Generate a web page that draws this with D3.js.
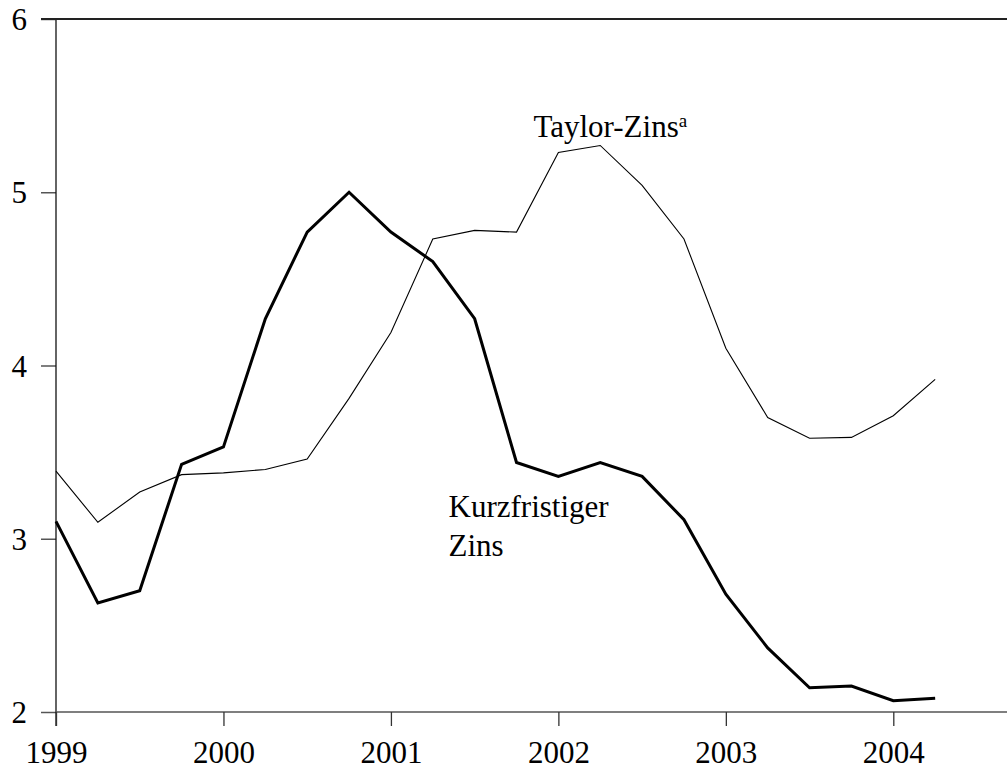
<!DOCTYPE html>
<html>
<head>
<meta charset="utf-8">
<script src="https://cdn.jsdelivr.net/npm/d3@7"></script>
<style>
  html, body { margin: 0; padding: 0; background: #fff; }
  svg { display: block; }
</style>
</head>
<body>
<svg id="chart" width="1007" height="768"></svg>
<script>
// Quarterly observations, 1999 Q1 .. 2004 Q2
const quarters = [1999.0, 1999.25, 1999.5, 1999.75, 2000.0, 2000.25, 2000.5, 2000.75,
                  2001.0, 2001.25, 2001.5, 2001.75, 2002.0, 2002.25, 2002.5, 2002.75,
                  2003.0, 2003.25, 2003.5, 2003.75, 2004.0, 2004.25];
const kurzfristigerZins = [3.10, 2.63, 2.70, 3.43, 3.53, 4.27, 4.77, 5.00, 4.77, 4.60, 4.27,
                           3.44, 3.36, 3.44, 3.36, 3.11, 2.68, 2.37, 2.14, 2.15, 2.065, 2.08];
const taylorZins = [3.39, 3.095, 3.27, 3.37, 3.38, 3.40, 3.46, 3.81, 4.19, 4.73, 4.78,
                    4.77, 5.23, 5.27, 5.04, 4.73, 4.10, 3.70, 3.58, 3.585, 3.71, 3.92];
const xTickYears = [1999, 2000, 2001, 2002, 2003, 2004];
const yTickValues = [2, 3, 4, 5, 6];

const FONT = "'Liberation Serif'";

const svg = d3.select("#chart");
const x = d3.scaleLinear().domain([1999, 2004]).range([56, 893.3]);
const y = d3.scaleLinear().domain([2, 6]).range([712, 19]);
const xRight = 1007;

// Y axis (ticks pointing left)
const yAxis = svg.append("g")
  .attr("transform", "translate(56,0)")
  .call(d3.axisLeft(y).tickValues(yTickValues).tickSize(15).tickSizeOuter(0).tickFormat(d3.format("d")));
yAxis.attr("font-family", "Liberation Serif").attr("font-size", 31);
yAxis.select(".domain").remove();
yAxis.selectAll(".tick line").attr("stroke", "#555").attr("stroke-width", 1.5);
yAxis.selectAll(".tick text")
  .attr("x", -29).attr("dy", "0.34em")
  .attr("fill", "#000")
  .style("font-family", FONT)
  .style("font-size", "31px");

// vertical axis line
svg.append("line")
  .attr("x1", x(1999)).attr("x2", x(1999))
  .attr("y1", y(6)).attr("y2", y(2) + 14)
  .attr("stroke", "#111").attr("stroke-width", 1.3);

// horizontal lines at bottom and top
svg.append("line")
  .attr("x1", 56).attr("x2", xRight).attr("y1", y(2)).attr("y2", y(2))
  .attr("stroke", "#555").attr("stroke-width", 1.5);
svg.append("line")
  .attr("x1", 41).attr("x2", xRight).attr("y1", y(6)).attr("y2", y(6))
  .attr("stroke", "#222").attr("stroke-width", 2);

// X axis (ticks pointing down)
const xAxis = svg.append("g")
  .attr("transform", `translate(0,${y(2)})`)
  .call(d3.axisBottom(x).tickValues(xTickYears).tickSize(14).tickSizeOuter(0).tickFormat(d3.format("d")));
xAxis.attr("font-family", "Liberation Serif").attr("font-size", 31);
xAxis.select(".domain").remove();
xAxis.selectAll(".tick line").attr("stroke", "#333").attr("stroke-width", 1.3);
xAxis.selectAll(".tick text")
  .attr("y", 51).attr("dy", 0)
  .attr("fill", "#000")
  .style("font-family", FONT)
  .style("font-size", "31px");

// Lines
const line = vals => d3.line().x((d, i) => x(quarters[i])).y(d => y(d))(vals);

svg.append("path")
  .attr("d", line(taylorZins))
  .attr("fill", "none").attr("stroke", "#000").attr("stroke-width", 1.1)
  .attr("stroke-linejoin", "miter");

svg.append("path")
  .attr("d", line(kurzfristigerZins))
  .attr("fill", "none").attr("stroke", "#000").attr("stroke-width", 3)
  .attr("stroke-linejoin", "miter");

// Labels
const tl = svg.append("text")
  .attr("x", x(2001.851)).attr("y", y(5.317))
  .style("font-family", FONT)
  .style("font-size", "31px");
tl.append("tspan").text("Taylor-Zins");
tl.append("tspan").attr("dy", -10).style("font-size", "19px").text("a");

const kl = svg.append("text")
  .attr("x", x(2001.344)).attr("y", y(3.127))
  .style("font-family", FONT)
  .style("font-size", "31px");
kl.append("tspan").text("Kurzfristiger");
kl.append("tspan").attr("x", x(2001.344)).attr("dy", 39.5).text("Zins");
</script>
</body>
</html>
